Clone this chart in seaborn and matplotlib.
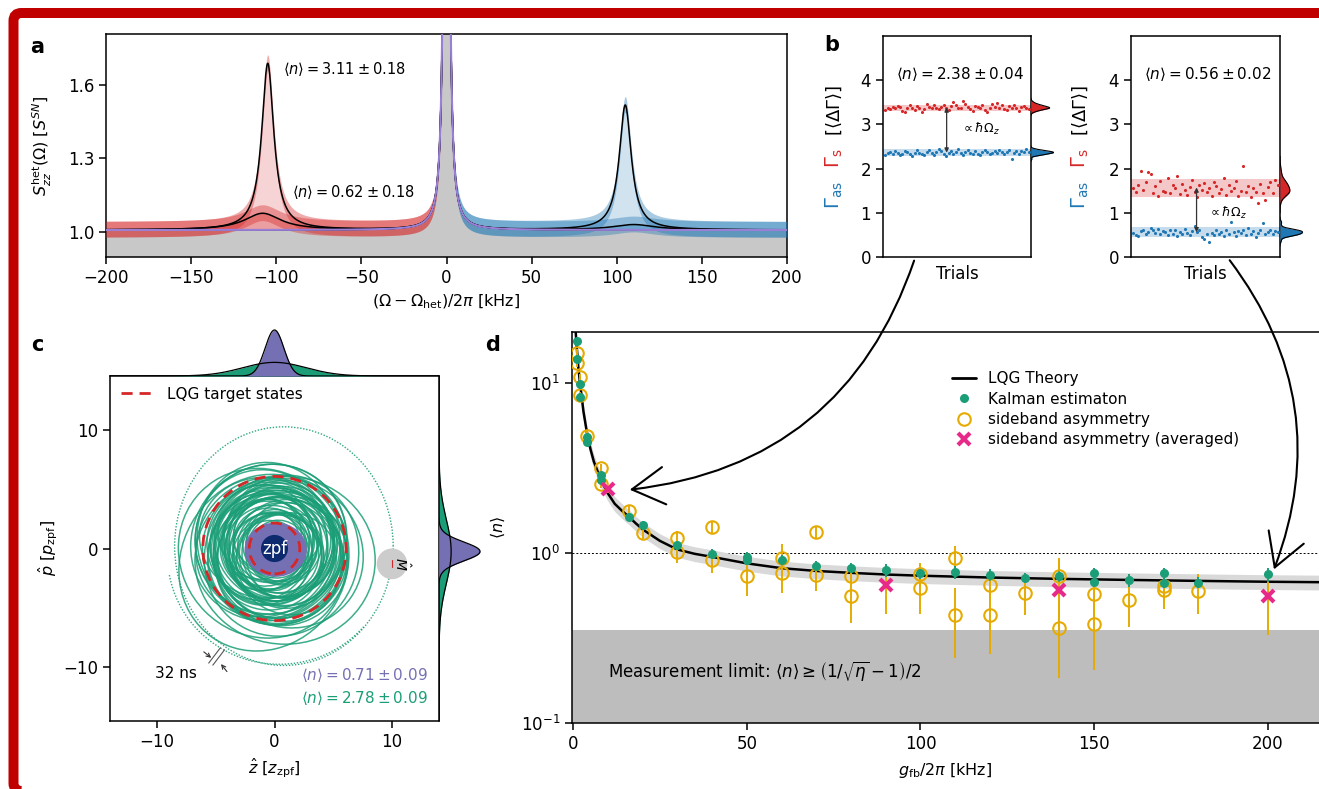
import numpy as np
import matplotlib
matplotlib.use("Agg")
import matplotlib.pyplot as plt
import seaborn as sns
from matplotlib.patches import Ellipse, Circle, Arc, FancyArrowPatch, FancyBboxPatch
from matplotlib.lines import Line2D

# ---------------------------------------------------------------- data
# (a) heterodyne spectrum: Lorentzian fit parameters (center kHz, hwhm kHz, height)
spec_base = 1.008
carrier_fit = (0.0, 1.0, 6.0)
red_hot_fit = (-105.0, 4.3, 0.68)
red_cold_fit = (-108.0, 13.0, 0.068)
blue_hot_fit = (105.0, 4.3, 0.51)
blue_cold_fit = (110.0, 15.0, 0.022)
spec_noise = 0.03
a_xticks = [-200, -150, -100, -50, 0, 50, 100, 150, 200]
a_yticks = [1.0, 1.3, 1.6]

# (b) sideband rates per trial
b1_stokes = [3.33, 3.38, 3.35, 3.40, 3.36, 3.42, 3.39, 3.31, 3.27, 3.37, 3.44, 3.36, 3.33, 3.41, 3.38,
             3.29, 3.35, 3.47, 3.40, 3.36, 3.43, 3.38, 3.34, 3.39, 3.45, 3.37, 3.33, 3.41, 3.50, 3.44,
             3.38, 3.36, 3.52, 3.47, 3.40, 3.35, 3.31, 3.42, 3.39, 3.36, 3.44, 3.33, 3.29, 3.38, 3.46,
             3.40, 3.49, 3.37, 3.43, 3.35, 3.32, 3.41, 3.38, 3.45, 3.36, 3.30, 3.39, 3.42, 3.37, 3.34]
b1_anti = [2.31, 2.35, 2.38, 2.33, 2.40, 2.36, 2.30, 2.34, 2.39, 2.37, 2.32, 2.28, 2.35, 2.41, 2.36,
           2.33, 2.30, 2.38, 2.42, 2.35, 2.31, 2.37, 2.44, 2.39, 2.34, 2.29, 2.36, 2.40, 2.33, 2.38,
           2.45, 2.35, 2.31, 2.37, 2.41, 2.36, 2.33, 2.39, 2.34, 2.30, 2.38, 2.42, 2.37, 2.32, 2.36,
           2.40, 2.35, 2.43, 2.38, 2.33, 2.37, 2.41, 2.22, 2.36, 2.39, 2.34, 2.40, 2.37, 2.44, 2.38]
b2_stokes = [1.55, 1.48, 1.62, 1.95, 1.52, 1.70, 1.93, 1.88, 1.45, 1.60, 1.38, 1.72, 1.50, 1.47, 1.78,
             1.44, 1.63, 1.55, 1.84, 1.42, 1.66, 1.52, 1.40, 1.58, 1.74, 1.48, 1.36, 1.62, 1.51, 1.67,
             1.46, 1.55, 1.39, 1.70, 1.60, 1.45, 1.53, 1.78, 1.41, 1.64, 1.49, 1.57, 1.72, 1.38, 1.50,
             2.06, 1.47, 1.61, 1.35, 1.56, 1.48, 1.22, 1.66, 1.44, 1.30, 1.59, 1.70, 1.45, 1.75, 1.62]
b2_anti = [0.55, 0.50, 0.47, 0.58, 0.62, 0.52, 0.57, 0.66, 0.60, 0.54, 0.63, 0.51, 0.58, 0.56, 0.49,
           0.61, 0.53, 0.60, 0.48, 0.57, 0.52, 0.63, 0.55, 0.50, 0.59, 0.71, 0.57, 0.62, 0.46, 0.40,
           0.52, 0.35, 0.55, 0.49, 0.60, 0.53, 0.57, 0.47, 0.62, 0.51, 0.80, 0.56, 0.48, 0.59, 0.54,
           0.61, 0.50, 0.66, 0.52, 0.58, 0.46, 0.55, 0.60, 0.77, 0.51, 0.57, 0.62, 0.53, 0.59, 0.56]
b1_bands = [(3.30, 3.45), (2.28, 2.44)]
b2_bands = [(1.35, 1.77), (0.45, 0.67)]
b_yticks = [0, 1, 2, 3, 4]

# (c) phase-space loops: radius, offset, aspect, tilt
loop_r = [2.5, 2.7, 2.9, 3.0, 3.2, 3.3, 3.5, 3.6, 3.7, 3.9, 4.0, 4.1, 4.2, 4.4, 4.5, 4.6, 4.7, 4.8,
          5.0, 5.1, 5.2, 5.3, 5.5, 5.6, 5.8, 5.9, 6.1, 6.3, 6.5, 6.8, 7.1, 7.4, 3.1, 3.4, 3.8, 4.3,
          4.9, 5.4, 5.7, 6.0, 2.8, 3.6, 4.4, 5.0, 3.2, 3.5, 3.9, 4.2, 4.6, 4.9, 5.3, 5.6, 6.2, 6.6,
          7.0, 3.7]
loop_dx = [0.4, -0.5, 0.6, -0.3, 0.8, -0.6, 0.1, 0.5, -0.8, 0.3, -0.4, 0.9, -0.1, 0.6, -0.9, 0.4,
           -0.5, 0.8, -0.3, 0.5, -0.6, 0.3, 0.8, -0.4, 0.1, -0.8, 0.5, -0.3, 0.6, -0.5, 0.9, -1.0,
           -0.4, 0.5, -0.6, 0.8, -0.1, 0.4, -0.8, 0.3, 0.1, -0.3, 0.4, -0.5, 0.8, -0.9, 1.0, -0.7,
           0.9, -1.1, 0.6, -0.8, 1.1, -0.5, -0.9, 0.2]
loop_dy = [-0.3, 0.5, 0.1, -0.6, 0.4, -0.1, 0.8, -0.5, 0.3, -0.8, 0.6, 0.0, -0.4, 0.5, -0.3, 0.9,
           -0.6, 0.1, 0.4, -0.8, 0.3, -0.5, 0.6, 0.1, -0.9, 0.4, -0.3, 0.8, -0.6, 0.5, -1.0, -0.4,
           0.3, -0.4, 0.5, -0.1, 0.6, -0.5, 0.1, -0.8, 0.4, -0.6, 0.3, 0.0, -0.7, 0.8, -0.9, 1.0,
           -0.6, 0.5, -1.0, 0.9, -0.4, 0.7, -1.2, 1.1]
loop_asp = [1.08, 0.93, 1.05, 0.96, 1.10, 0.92, 1.04, 0.97, 1.07, 0.94, 1.02, 1.09, 0.95, 1.06, 0.91,
            1.03, 0.98, 1.08, 0.94, 1.05, 0.97, 1.10, 0.93, 1.04, 0.96, 1.07, 0.92, 1.03, 1.06, 0.95,
            1.08, 0.94, 1.02, 0.96, 1.09, 0.93, 1.05, 0.97, 1.07, 0.95, 1.04, 0.98, 1.06, 0.94, 1.12,
            0.88, 1.10, 0.90, 1.13, 0.89, 1.08, 0.91, 1.06, 0.92, 1.10, 0.87]
loop_tilt = [10, 40, 75, 120, 160, 25, 55, 95, 140, 5, 65, 110, 150, 30, 80, 125, 170, 15, 60, 100,
             145, 35, 85, 130, 175, 20, 70, 115, 155, 45, 90, 135, 50, 100, 150, 0, 45, 90, 135, 160,
             20, 70, 120, 170, 15, 60, 105, 150, 35, 80, 125, 170, 55, 100, 145, 5]
c_sigma_cold, c_sigma_hot = 0.8, 2.7
c_center_p = -0.25
target_r = [2.15, 6.1]
c_ticks = [-10, 0, 10]

# (d) occupation vs feedback gain
theory_g = [0.5, 1, 1.5, 2, 3, 4, 5, 6, 8, 10, 12, 14, 16, 18, 20, 25, 30, 35, 40, 50, 60, 70, 80,
            90, 100, 120, 140, 160, 180, 200, 215]
theory_n = [24.0, 17.0, 12.5, 10.0, 6.8, 5.1, 4.1, 3.45, 2.7, 2.25, 1.95, 1.78, 1.64, 1.5, 1.38,
            1.18, 1.05, 0.99, 0.95, 0.87, 0.815, 0.785, 0.765, 0.748, 0.736, 0.718, 0.705, 0.695,
            0.686, 0.678, 0.674]
theory_rel_band = 0.10
kal_g = [1, 1, 2, 2, 4, 4, 8, 8, 16, 20, 30, 40, 50, 50, 60, 70, 80, 90, 100, 110, 120, 130, 140,
         150, 150, 160, 170, 170, 180, 200]
kal_n = [17.6, 13.9, 9.9, 8.3, 4.8, 4.5, 2.88, 2.69, 1.64, 1.47, 1.12, 0.99, 0.95, 0.91, 0.905,
         0.84, 0.82, 0.79, 0.76, 0.77, 0.746, 0.713, 0.73, 0.76, 0.68, 0.69, 0.76, 0.67, 0.67, 0.75]
kal_err = [1.0, 0.8, 0.5, 0.4, 0.25, 0.22, 0.14, 0.12, 0.08, 0.07, 0.06, 0.06, 0.06, 0.06, 0.07,
           0.06, 0.06, 0.07, 0.06, 0.07, 0.06, 0.05, 0.06, 0.06, 0.05, 0.06, 0.06, 0.05, 0.05, 0.07]
sb_g = [1, 1, 2, 2, 4, 8, 8, 16, 20, 30, 30, 40, 40, 50, 60, 60, 70, 70, 80, 80, 100, 100, 110, 110,
        120, 120, 130, 140, 140, 150, 150, 160, 170, 170, 180]
sb_n = [15.0, 13.2, 10.8, 8.5, 4.9, 3.15, 2.55, 1.78, 1.31, 1.22, 1.02, 1.43, 0.91, 0.73, 0.93, 0.76,
        1.33, 0.74, 0.73, 0.56, 0.75, 0.62, 0.93, 0.43, 0.65, 0.435, 0.58, 0.73, 0.363, 0.577, 0.385,
        0.527, 0.64, 0.61, 0.596]
sb_err = [0.8, 0.7, 0.5, 0.4, 0.3, 0.2, 0.15, 0.12, 0.12, 0.12, 0.15, 0.12, 0.15, 0.17, 0.2, 0.18,
          0.12, 0.14, 0.1, 0.17, 0.12, 0.18, 0.17, 0.19, 0.12, 0.18, 0.15, 0.2, 0.18, 0.17, 0.18,
          0.16, 0.14, 0.14, 0.16]
avg_g = [10, 90, 140, 200]
avg_n = [2.37, 0.65, 0.61, 0.56]
avg_err = [0.1, 0.21, 0.3, 0.23]
meas_limit = 0.355
d_xticks = [0, 50, 100, 150, 200]

# ---------------------------------------------------------------- style
RED, BLUE = "#d62728", "#1f77b4"
PURPLE, GREEN, GOLD, PINK = "#7570b3", "#1b9e77", "#e6ab02", "#e7298a"
W, H = 1319, 789

sns.set_theme(style="ticks")
plt.rcParams.update({
    "font.family": ["DejaVu Sans"],
    "axes.edgecolor": "black", "axes.linewidth": 1.1,
    "xtick.color": "black", "ytick.color": "black",
    "xtick.major.width": 1.1, "ytick.major.width": 1.1,
    "xtick.major.size": 5, "ytick.major.size": 5,
    "xtick.labelsize": 12, "ytick.labelsize": 12,
    "axes.labelsize": 11.5, "text.color": "black", "axes.labelcolor": "black",
})

fig = plt.figure(figsize=(W / 100, H / 100), dpi=100)


def px_axes(l, t, r, b):
    return fig.add_axes([l / W, 1 - b / H, (r - l) / W, (b - t) / H])


def lorentz(x, p):
    c, g, a = p
    return a * g ** 2 / ((x - c) ** 2 + g ** 2)


# ---------------------------------------------------------------- panel a
axa = px_axes(106, 34, 787, 257)
f = np.linspace(-200, 200, 4001)
ylo = 0.898
carrier = spec_base + lorentz(f, carrier_fit)
axa.fill_between(f, ylo, carrier, color="#c8c8c8", lw=0, zorder=1)
left, right = f < -1.5, f > 1.5
for mask, hot, cold, col in [(left, red_hot_fit, red_cold_fit, RED),
                             (right, blue_hot_fit, blue_cold_fit, BLUE)]:
    fh = carrier + lorentz(f, hot)
    fc = carrier + lorentz(f, cold)
    axa.fill_between(f[mask], carrier[mask], fh[mask], color=col, alpha=0.2, lw=0, zorder=2)
    axa.fill_between(f[mask], carrier[mask], fc[mask], color=col, alpha=0.3, lw=0, zorder=2)
    for curve in (fh, fc):
        axa.fill_between(f[mask], curve[mask] - spec_noise, curve[mask] + spec_noise * 1.15,
                         color=col, alpha=0.38, lw=0, zorder=3)
    axa.plot(f, fh, color="black", lw=1.1, zorder=5)
    axa.plot(f, fc, color="black", lw=1.1, zorder=5)
axa.plot(f, carrier, color="#9a7fd6", lw=1.5, zorder=6)
axa.set_xlim(-200, 200)
axa.set_ylim(ylo, 1.808)
axa.set_xticks(a_xticks)
axa.set_yticks(a_yticks)
axa.set_yticklabels([f"{v:.1f}" for v in a_yticks])
axa.set_xlabel(r"$(\Omega-\Omega_{\rm het})/2\pi$ [kHz]", labelpad=4)
axa.set_ylabel(r"$S_{zz}^{\rm het}(\Omega)$ [$S^{SN}$]", labelpad=10)
axa.text(-96, 1.665, r"$\langle n\rangle = 3.11 \pm 0.18$", fontsize=10.5, va="center")
axa.text(-91, 1.165, r"$\langle n\rangle = 0.62 \pm 0.18$", fontsize=10.5, va="center")

# ---------------------------------------------------------------- panel b
def panel_b(l, r, stokes, anti, bands, label, arrow_x, prop_xy, label_x):
    ax = px_axes(l, 36, r, 257)
    trials = np.arange(len(stokes))
    for (lo_, hi_), col in zip(bands, [RED, BLUE]):
        ax.axhspan(lo_, hi_, color=col, alpha=0.25, lw=0, zorder=1)
    sns.scatterplot(x=trials, y=stokes, color=RED, s=5, linewidth=0, ax=ax, zorder=3)
    sns.scatterplot(x=trials, y=anti, color=BLUE, s=5, linewidth=0, ax=ax, zorder=3)
    ax.set_xlim(-1, len(stokes))
    ax.set_ylim(0, 5)
    ax.set_yticks(b_yticks)
    ax.set_xticks([])
    ax.set_xlabel("Trials", fontsize=12, labelpad=6)
    ax.text(0.09, 4.15, label, fontsize=11, transform=ax.get_yaxis_transform(), va="center")
    ms, ma = np.mean(stokes), np.mean(anti)
    ax.annotate("", xy=(arrow_x, ma), xytext=(arrow_x, ms),
                xycoords=ax.get_yaxis_transform(),
                arrowprops=dict(arrowstyle="<|-|>", color="#333333", lw=0.9,
                                mutation_scale=6, shrinkA=0, shrinkB=0), zorder=4)
    ax.text(prop_xy[0], prop_xy[1], r"$\propto\hbar\Omega_z$", fontsize=9,
            transform=ax.get_yaxis_transform(), va="center")
    m = px_axes(r, 36, r + 23, 257)
    sns.kdeplot(y=stokes, fill=True, color=RED, alpha=1, lw=0, ax=m)
    sns.kdeplot(y=anti, fill=True, color=BLUE, alpha=1, lw=0, ax=m)
    sns.kdeplot(y=stokes, color="black", lw=0.8, ax=m)
    sns.kdeplot(y=anti, color="black", lw=0.8, ax=m)
    m.set_ylim(0, 5)
    m.set_xlim(0, m.dataLim.x1 * 1.02)
    m.axis("off")
    fig.text(label_x / W, 1 - 195 / H, r"$\Gamma_{\rm as}$", color=BLUE, rotation=90,
             ha="center", va="center", fontsize=14)
    fig.text(label_x / W, 1 - 158 / H, r"$\Gamma_{\rm s}$", color=RED, rotation=90,
             ha="center", va="center", fontsize=14)
    fig.text(label_x / W, 1 - 111 / H, r"$[\langle\Delta\Gamma\rangle]$", color="black",
             rotation=90, ha="center", va="center", fontsize=13)
    return ax


panel_b(883, 1031, b1_stokes, b1_anti, b1_bands, r"$\langle n\rangle = 2.38 \pm 0.04$",
        0.43, (0.53, 2.9), 834)
panel_b(1131, 1280, b2_stokes, b2_anti, b2_bands, r"$\langle n\rangle = 0.56 \pm 0.02$",
        0.44, (0.52, 1.0), 1080)

# ---------------------------------------------------------------- panel c
axc = px_axes(110, 376, 439, 721)
axc.set_xlim(-14, 14)
axc.set_ylim(-14.6, 14.6)
axc.add_patch(Arc((0.8, 0.2), 18.6, 20.2, angle=0, theta1=0, theta2=360,
                  color=GREEN, lw=1.0, ls=(0, (1, 1.2)), alpha=0.9, zorder=2))
axc.add_patch(Arc((0.4, -0.6), 19.0, 18.4, angle=0, theta1=190, theta2=320,
                  color=GREEN, lw=1.0, ls=(0, (1, 1.2)), alpha=0.9, zorder=2))
for r_, dx, dy, asp, tilt in zip(loop_r, loop_dx, loop_dy, loop_asp, loop_tilt):
    axc.add_patch(Ellipse((dx, dy), 2 * r_, 2 * r_ * asp, angle=tilt, fill=False,
                          ec=GREEN, lw=1.1, alpha=0.85, zorder=3))
axc.add_patch(Ellipse((0.1, -0.1), 5.3, 4.6, color=PURPLE, lw=0, zorder=4))
for rr in target_r:
    axc.add_patch(Circle((0, 0), rr, fill=False, ec=RED, lw=2.0, ls=(0, (4, 2.5)), zorder=5))
axc.add_patch(Circle((0, 0), 1.15, color="#0d2a6e", lw=0, zorder=6))
axc.text(0, 0, "zpf", color="white", fontsize=12, ha="center", va="center", zorder=7)
axc.add_patch(Circle((10, -1.3), 1.3, color="#cccccc", lw=0, zorder=6))
axc.plot([10, 10], [-1.0, -1.6], color=RED, lw=0.8, zorder=7)
axc.text(10.8, -1.3, r"$\hat{M}$", rotation=-90, fontsize=10, ha="center", va="center", zorder=7)
# 32 ns step marker
for off in (0.0, 0.35):
    axc.plot([-5.6 + off, -4.6 + off], [-9.7 - off * 0.5, -8.4 - off * 0.5], color="#555555",
             lw=0.8, zorder=7)
axc.annotate("", xy=(-5.2, -9.4), xytext=(-6.2, -8.6),
             arrowprops=dict(arrowstyle="->", color="#333333", lw=0.8, mutation_scale=7))
axc.annotate("", xy=(-4.7, -9.6), xytext=(-3.9, -10.6),
             arrowprops=dict(arrowstyle="->", color="#333333", lw=0.8, mutation_scale=7))
axc.text(-8.4, -10.6, "32 ns", fontsize=11, ha="center", va="center")
axc.text(13.0, -10.7, r"$\langle n\rangle = 0.71 \pm 0.09$", color=PURPLE, fontsize=11,
         ha="right", va="center")
axc.text(13.0, -12.65, r"$\langle n\rangle = 2.78 \pm 0.09$", color=GREEN, fontsize=11,
         ha="right", va="center")
axc.legend(handles=[Line2D([], [], color=RED, lw=2, ls=(0, (4, 2.5)))],
           labels=["LQG target states"], loc="upper left", frameon=False, fontsize=11,
           handlelength=2.2, borderaxespad=0.3)
axc.set_xticks(c_ticks)
axc.set_yticks(c_ticks)
axc.set_xlabel(r"$\hat{z}$ [$z_{\rm zpf}$]", labelpad=4)
axc.set_ylabel(r"$\hat{p}$ [$p_{\rm zpf}$]", labelpad=2)

zz = np.linspace(-14, 14, 800)
g_cold = np.exp(-0.5 * (zz / c_sigma_cold) ** 2) / (c_sigma_cold * np.sqrt(2 * np.pi))
g_hot = np.exp(-0.5 * (zz / c_sigma_hot) ** 2) / (c_sigma_hot * np.sqrt(2 * np.pi))
mt = px_axes(110, 326, 439, 376)
mt.fill_between(zz, 0, g_hot, color=GREEN, lw=0)
mt.fill_between(zz, 0, g_cold, color=PURPLE, lw=0)
mt.plot(zz, g_hot, color="black", lw=0.9)
mt.plot(zz, g_cold, color="black", lw=0.9)
mt.set_xlim(-14, 14)
mt.set_ylim(0, g_cold.max() * 50 / 46)
mt.axis("off")
pp = np.linspace(-14.6, 14.6, 800)
h_cold = np.exp(-0.5 * ((pp - c_center_p) / c_sigma_cold) ** 2) / (c_sigma_cold * np.sqrt(2 * np.pi))
h_hot = np.exp(-0.5 * ((pp - c_center_p) / c_sigma_hot) ** 2) / (c_sigma_hot * np.sqrt(2 * np.pi))
mr = px_axes(439, 376, 490, 721)
mr.fill_betweenx(pp, 0, h_hot, color=GREEN, lw=0)
mr.fill_betweenx(pp, 0, h_cold, color=PURPLE, lw=0)
mr.plot(h_hot, pp, color="black", lw=0.9)
mr.plot(h_cold, pp, color="black", lw=0.9)
mr.set_ylim(-14.6, 14.6)
mr.set_xlim(0, h_cold.max() * 51 / 41)
mr.axis("off")

# ---------------------------------------------------------------- panel d
axd = px_axes(572, 332, 1319, 723)
axd.set_yscale("log")
axd.set_xlim(-0.3, 214.7)
axd.set_ylim(0.1, 20)
axd.axhspan(0.1, meas_limit, color="#bdbdbd", lw=0, zorder=0)
axd.axhline(1.0, color="black", lw=0.7, ls=(0, (2, 2)), zorder=1)
tn = np.array(theory_n)
axd.fill_between(theory_g, tn * (1 - theory_rel_band), tn * (1 + theory_rel_band),
                 color="#d9d9d9", lw=0, zorder=1)
sns.lineplot(x=theory_g, y=theory_n, color="black", lw=1.8, ax=axd, zorder=3,
             label="LQG Theory", legend=False)
axd.errorbar(sb_g, sb_n, yerr=sb_err, fmt="none", ecolor=GOLD, elinewidth=1.4, zorder=3)
axd.errorbar(avg_g, avg_n, yerr=avg_err, fmt="none", ecolor=GOLD, elinewidth=1.4, zorder=3)
axd.errorbar(kal_g, kal_n, yerr=kal_err, fmt="none", ecolor=GREEN, elinewidth=1.4, zorder=4)
axd.plot(sb_g, sb_n, ls="none", marker="o", ms=9, mfc="none", mec=GOLD, mew=1.5, zorder=5)
axd.plot(kal_g, kal_n, ls="none", marker="o", ms=6.5, color=GREEN, mec="none", zorder=6)
axd.plot(avg_g, avg_n, ls="none", marker="x", ms=9, mew=3, color=PINK, zorder=7)
axd.text(10, 0.2, r"Measurement limit: $\langle n\rangle \geq \left(1/\sqrt{\eta}-1\right)/2$",
         fontsize=12, va="center")
axd.set_xticks(d_xticks)
axd.minorticks_off()
axd.set_yticks([0.1, 1, 10])
axd.set_xlabel(r"$g_{\rm fb}/2\pi$ [kHz]", labelpad=6)
axd.set_ylabel(r"$\langle n\rangle$", labelpad=10)
axd.spines["right"].set_visible(False)
leg_handles = [Line2D([], [], color="black", lw=2),
               Line2D([], [], ls="none", marker="o", ms=6.5, color=GREEN, mec="none"),
               Line2D([], [], ls="none", marker="o", ms=9, mfc="none", mec=GOLD, mew=1.5),
               Line2D([], [], ls="none", marker="x", ms=9, mew=3, color=PINK)]
axd.legend(leg_handles, ["LQG Theory", "Kalman estimaton", "sideband asymmetry",
                         "sideband asymmetry (averaged)"],
           loc="upper left", bbox_to_anchor=(0.49, 0.935), frameon=False, fontsize=11,
           handlelength=1.6, labelspacing=0.35)

# ---------------------------------------------------------------- connecting arrows
def fig_px(x, y):
    return (x / W, 1 - y / H)


for start, end, rad in [((915, 258), (627, 490), -0.32), ((1228, 258), (1273, 572), -0.28)]:
    arr = FancyArrowPatch(fig_px(*start), fig_px(*end), transform=fig.transFigure,
                          connectionstyle=f"arc3,rad={rad}",
                          arrowstyle="->,head_length=1.3,head_width=0.75",
                          mutation_scale=18, lw=1.5, color="black", zorder=20)
    fig.add_artist(arr)

# ---------------------------------------------------------------- panel letters and frame
for letter, (x, y) in {"a": (37, 47), "b": (832, 45), "c": (37, 345), "d": (493, 345)}.items():
    fig.text(x / W, 1 - y / H, letter, fontsize=15, fontweight="bold", ha="center", va="center")

frame = FancyBboxPatch((13.5 / W, 1 - 791 / H), (1345 - 13.5) / W, (791 - 13) / H,
                       boxstyle="round,pad=0,rounding_size=0.006", mutation_aspect=W / H,
                       transform=fig.transFigure, fill=False, ec="#c00000", lw=7.2, zorder=30)
fig.add_artist(frame)

fig.savefig("out.png", dpi=100)
